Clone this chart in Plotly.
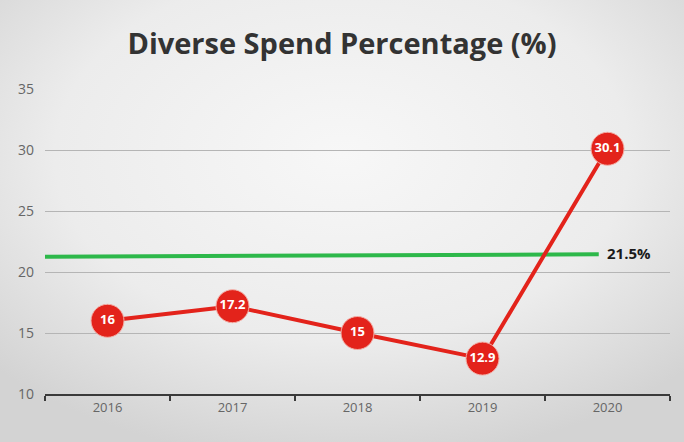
import base64
import plotly.graph_objects as go

years = ["2016", "2017", "2018", "2019", "2020"]
spend_pct = [16, 17.2, 15, 12.9, 30.1]
spend_labels = ["16", "17.2", "15", "12.9", "30.1"]
target_pct = [21.25, 21.3, 21.35, 21.4, 21.45]
target_label = "21.5%"

xpos = list(range(len(years)))
bounds = [i - 0.5 for i in range(len(years) + 1)]

W, H = 684, 442
L, R, T, B = 45, 14, 89, 48
pw, ph = W - L - R, H - T - B

# soft radial background like the slide
svg = ('<svg xmlns="http://www.w3.org/2000/svg" width="684" height="442">'
       '<defs><radialGradient id="g" cx="50%" cy="35%" r="70%">'
       '<stop offset="0" stop-color="#f7f7f7"/><stop offset="0.6" stop-color="#ececec"/>'
       '<stop offset="1" stop-color="#d3d3d3"/></radialGradient></defs>'
       '<rect width="684" height="442" fill="url(#g)"/></svg>')
bg_uri = "data:image/svg+xml;base64," + base64.b64encode(svg.encode()).decode()

fig = go.Figure()

# target line (ends just short of the last category)
fig.add_trace(go.Scatter(
    x=[-0.5, 0.5, 1.5, 2.5, 3.93], y=target_pct, mode="lines",
    line=dict(color="#2db84a", width=4), hoverinfo="skip", showlegend=False))

fig.add_trace(go.Scatter(
    x=xpos, y=spend_pct, mode="lines+markers+text",
    text=spend_labels, textposition="middle center",
    textfont=dict(family="Open Sans", size=13, color="white", weight="bold"),
    line=dict(color="#e3231b", width=4),
    marker=dict(color="#e3231b", size=33, line=dict(color="#f3b0a8", width=1)),
    showlegend=False, cliponaxis=False))

fig.add_annotation(
    x=3.93, y=21.5, xref="x", yref="y", text=target_label, showarrow=False,
    xanchor="left", xshift=6, yshift=1,
    font=dict(family="Open Sans", size=15, color="#1a1a1a", weight="bold"))

fig.add_layout_image(
    source=bg_uri, xref="paper", yref="paper",
    x=-L / pw, y=1 + T / ph, sizex=W / pw, sizey=H / ph,
    xanchor="left", yanchor="top", sizing="stretch", layer="below")

fig.update_layout(
    width=W, height=H,
    margin=dict(l=L, r=R, t=T, b=B),
    paper_bgcolor="#e6e6e6", plot_bgcolor="rgba(0,0,0,0)",
    title=dict(text="<b>Diverse Spend Percentage (%)</b>", x=0.5, xanchor="center",
               y=0.9, yanchor="middle",
               font=dict(family="Open Sans", size=29, color="#333333")),
    xaxis=dict(range=[-0.5, 4.5], showgrid=False, zeroline=False,
               tickmode="array", tickvals=xpos, ticktext=years, ticks="",
               showline=True, linecolor="#3a3a3a", linewidth=2,
               minor=dict(tickmode="array", tickvals=bounds, ticks="outside",
                          ticklen=5, tickwidth=2, tickcolor="#3a3a3a",
                          showgrid=False),
               tickfont=dict(family="Open Sans", size=13, color="#666666")),
    yaxis=dict(range=[10, 35], dtick=5, showgrid=True, gridcolor="#b5b5b5",
               gridwidth=1, zeroline=False, showline=False, ticks="",
               ticklabelstandoff=10,
               tickfont=dict(family="Open Sans", size=14, color="#666666")),
)

fig.write_html("out.html", config={"displayModeBar": False},
               post_script="document.body.style.margin='0';")
